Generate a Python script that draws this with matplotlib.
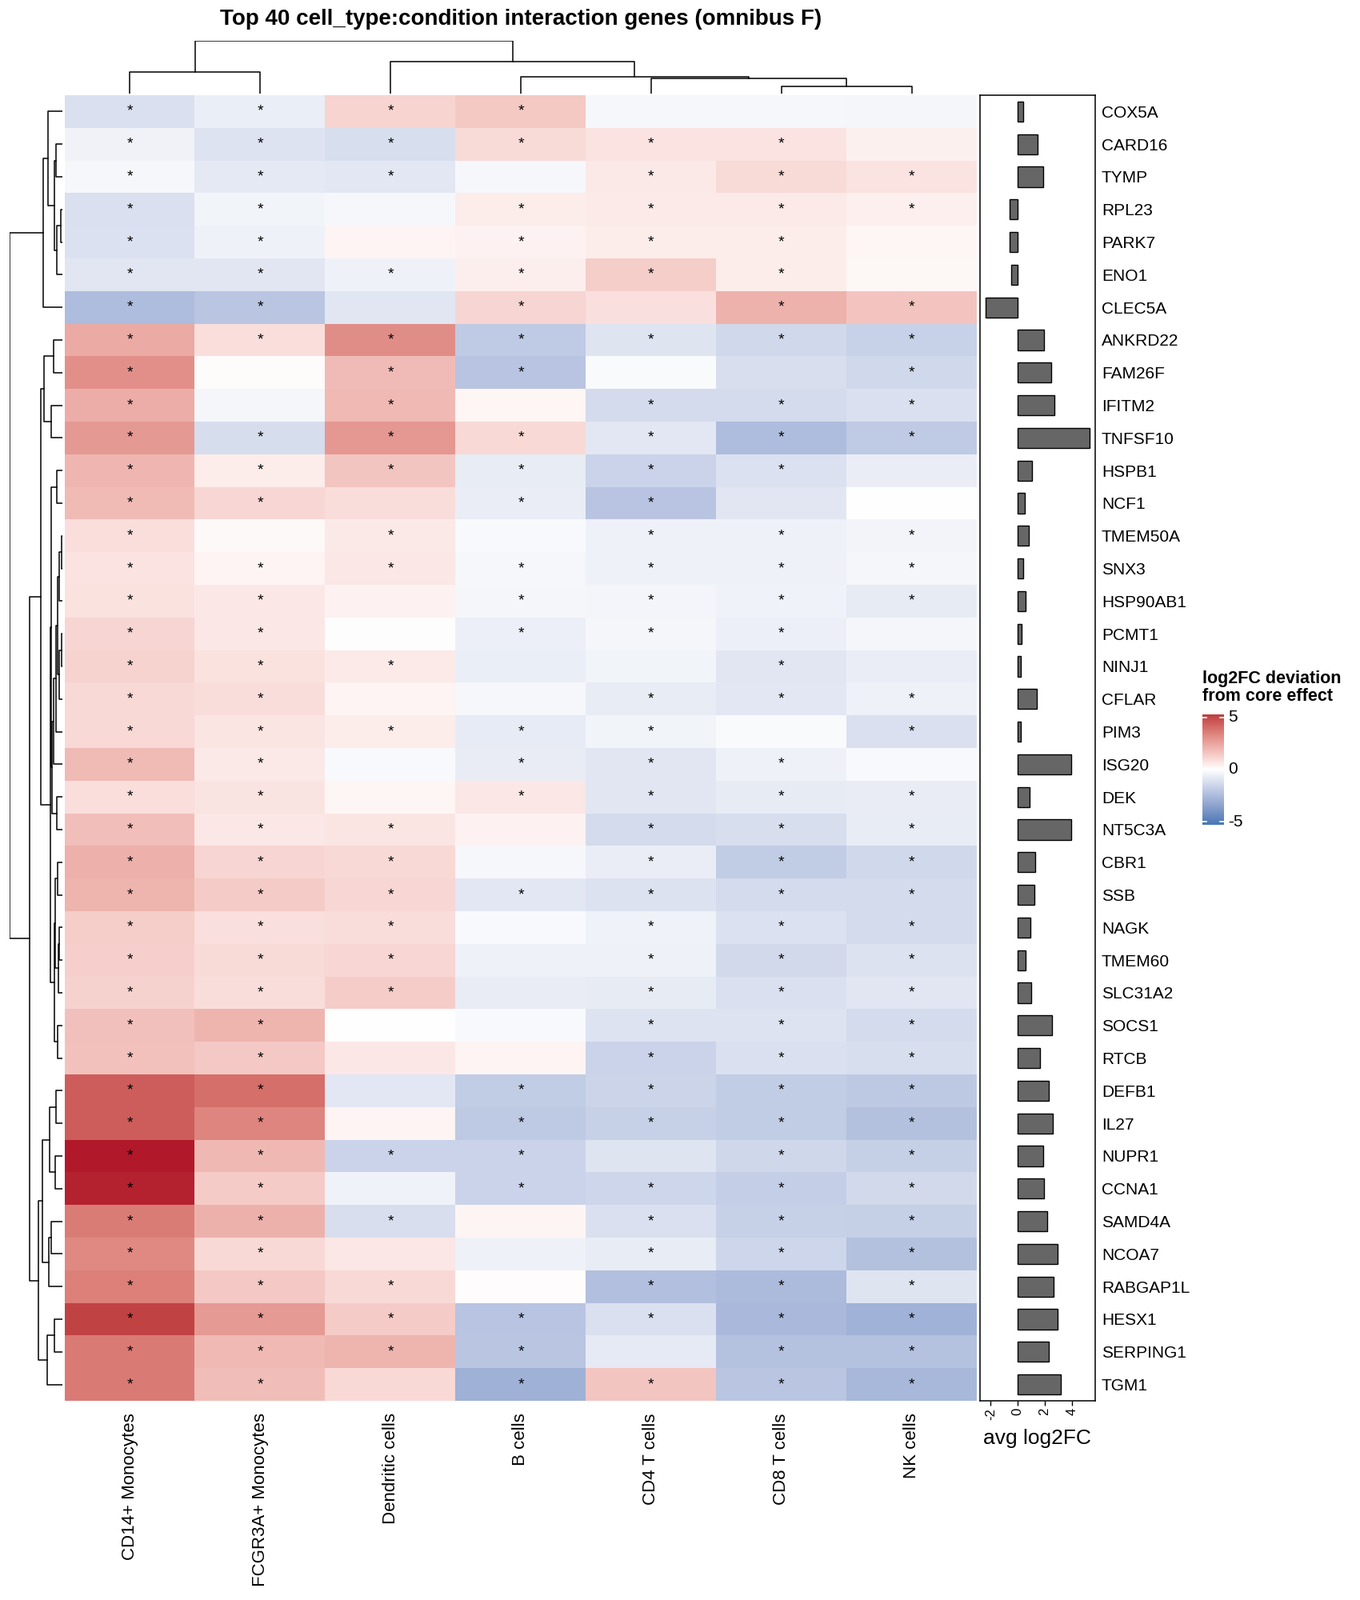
import numpy as np
import matplotlib
matplotlib.use('Agg')
import matplotlib.pyplot as plt
from matplotlib.colors import ListedColormap, Normalize

plt.rcParams['font.family'] = ['Liberation Sans', 'DejaVu Sans']
plt.rcParams['axes.unicode_minus'] = False

# ---- data ----
genes = ["COX5A", "CARD16", "TYMP", "RPL23", "PARK7", "ENO1", "CLEC5A", "ANKRD22",
         "FAM26F", "IFITM2", "TNFSF10", "HSPB1", "NCF1", "TMEM50A", "SNX3", "HSP90AB1",
         "PCMT1", "NINJ1", "CFLAR", "PIM3", "ISG20", "DEK", "NT5C3A", "CBR1", "SSB",
         "NAGK", "TMEM60", "SLC31A2", "SOCS1", "RTCB", "DEFB1", "IL27", "NUPR1", "CCNA1",
         "SAMD4A", "NCOA7", "RABGAP1L", "HESX1", "SERPING1", "TGM1"]
cell_types = ["CD14+ Monocytes", "FCGR3A+ Monocytes", "Dendritic cells", "B cells",
              "CD4 T cells", "CD8 T cells", "NK cells"]

cd14 = [-1.1, -0.45, -0.25, -1.1, -1.08, -0.9, -2.45, 2.36, 3.1, 2.28, 2.83, 2.0, 1.9, 0.9,
        0.78, 0.8, 1.15, 1.22, 1.06, 1.06, 1.92, 0.9, 1.8, 2.2, 2.08, 1.38, 1.3, 1.25, 1.72,
        1.7, 4.5, 4.5, 6.0, 5.85, 3.64, 3.3, 3.56, 5.2, 3.7, 3.7]
fcgr3a = [-0.6, -1.0, -0.8, -0.4, -0.5, -0.9, -2.1, 0.88, 0.1, -0.3, -1.24, 0.52, 1.12, 0.15,
          0.28, 0.62, 0.65, 0.8, 0.94, 0.7, 0.6, 0.73, 0.65, 1.15, 1.43, 0.86, 1.01, 0.94, 2.05,
          1.53, 4.0, 3.4, 1.97, 1.43, 2.15, 1.04, 1.53, 2.8, 1.95, 1.82]
dc = [1.2, -1.2, -0.85, -0.27, 0.28, -0.5, -0.9, 3.17, 1.87, 1.95, 2.9, 1.6, 0.94, 0.6, 0.65,
      0.34, 0.05, 0.55, 0.28, 0.5, -0.18, 0.23, 0.7, 1.04, 1.12, 0.94, 1.12, 1.4, 0.03, 0.62,
      -0.86, 0.28, -1.6, -0.46, -1.16, 0.65, 1.04, 1.43, 2.05, 1.06]
bcell = [1.5, 1.0, -0.25, 0.52, 0.36, 0.45, 1.15, -1.92, -2.16, 0.23, 1.06, -0.68, -0.62, -0.2,
         -0.27, -0.3, -0.57, -0.6, -0.27, -0.7, -0.65, 0.65, 0.34, -0.25, -0.84, -0.19, -0.5,
         -0.65, -0.19, 0.28, -1.86, -1.97, -1.6, -1.6, 0.26, -0.5, 0.08, -2.16, -2.14, -2.9]
cd4 = [-0.25, 0.75, 0.6, 0.57, 0.5, 1.38, 0.86, -0.97, -0.16, -1.3, -0.84, -1.6, -2.16, -0.5,
       -0.49, -0.32, -0.3, -0.4, -0.68, -0.4, -0.9, -0.9, -1.32, -0.62, -1.05, -0.46, -0.5,
       -0.73, -1.0, -1.6, -1.57, -1.7, -0.95, -1.49, -1.1, -0.68, -2.35, -1.13, -0.76, 1.58]
cd8 = [-0.25, 0.75, 1.0, 0.55, 0.5, 0.5, 2.13, -1.43, -1.16, -1.3, -2.43, -1.08, -0.9, -0.5,
       -0.5, -0.46, -0.57, -0.9, -0.84, -0.16, -0.5, -0.73, -1.2, -1.86, -1.32, -1.08, -1.38,
       -1.1, -1.0, -1.1, -1.86, -1.86, -1.46, -1.78, -1.7, -1.49, -2.5, -2.57, -2.27, -2.1]
nk = [-0.3, 0.4, 0.75, 0.42, 0.23, 0.2, 1.64, -1.68, -1.4, -1.1, -1.95, -0.62, 0.0, -0.38, -0.3,
      -0.73, -0.3, -0.62, -0.5, -1.1, -0.18, -0.65, -0.68, -1.4, -1.32, -1.32, -1.05, -0.9,
      -1.32, -1.2, -2.0, -2.3, -1.76, -1.38, -1.76, -2.3, -0.97, -2.86, -2.27, -2.62]

# significance marks, one string per gene, one char per cell type
signif = ["1111000", "1111110", "1110111", "1101111", "1101110", "1111110", "1101011",
          "1111111", "1011001", "1010111", "1111111", "1111110", "1101100", "1010111",
          "1111111", "1101111", "1101110", "1110010", "1100111", "1111101", "1101110",
          "1101111", "1110111", "1110111", "1111111", "1110111", "1110111", "1110111",
          "1100111", "1100111", "1101111", "1101111", "1111011", "1101111", "1110111",
          "1100111", "1110111", "1111111", "1111011", "1101111"]

avg_log2fc = [0.4, 1.47, 1.9, -0.6, -0.6, -0.5, -2.4, 1.95, 2.45, 2.7, 5.3, 1.03, 0.5, 0.8,
              0.4, 0.55, 0.3, 0.25, 1.4, 0.25, 3.95, 0.87, 3.95, 1.3, 1.25, 0.92, 0.55, 0.98,
              2.55, 1.63, 2.28, 2.6, 1.85, 1.95, 2.17, 2.93, 2.66, 2.93, 2.28, 3.15]

# dendrograms as merges (child a, child b, height); ids >= n are earlier merges
col_merges = [(0, 1, 27), (5, 6, 9), (4, 8, 19), (3, 9, 21), (2, 10, 40), (7, 11, 66)]
row_merges = [(3, 4, 2), (40, 5, 7.6), (1, 2, 8.3), (42, 41, 10.6), (0, 43, 18.3),
              (44, 6, 24.3), (7, 8, 11.6), (9, 10, 14), (46, 47, 23.3), (11, 12, 7.6),
              (13, 14, 1.5), (50, 15, 4.3), (16, 17, 1.5), (52, 18, 4.8), (51, 53, 6.6),
              (54, 19, 8.3), (55, 20, 11.6), (21, 22, 7.6), (56, 57, 13), (49, 58, 14),
              (23, 24, 6.6), (25, 26, 4.3), (61, 27, 5.6), (60, 62, 9.3), (28, 29, 6.6),
              (63, 64, 10.6), (59, 65, 15), (48, 66, 27.6), (30, 31, 8.3), (32, 33, 9.3),
              (68, 69, 16.6), (34, 35, 14), (71, 36, 17.3), (70, 72, 25), (37, 38, 10.6),
              (74, 39, 19), (73, 75, 30), (67, 76, 41), (45, 77, 66)]

# ---- colour ramp, interpolated in LAB like colorRamp2 ----
M_RGB2XYZ = np.array([[0.4124, 0.3576, 0.1805],
                      [0.2126, 0.7152, 0.0722],
                      [0.0193, 0.1192, 0.9505]])
WHITE_XYZ = np.array([0.95047, 1.0, 1.08883])


def hex_to_lab(h):
    c = np.array([int(h[i:i + 2], 16) for i in (1, 3, 5)]) / 255.0
    lin = np.where(c <= 0.04045, c / 12.92, ((c + 0.055) / 1.055) ** 2.4)
    xyz = M_RGB2XYZ @ lin / WHITE_XYZ
    f = np.where(xyz > (6 / 29) ** 3, np.cbrt(xyz), xyz / (3 * (6 / 29) ** 2) + 4 / 29)
    return np.array([116 * f[1] - 16, 500 * (f[0] - f[1]), 200 * (f[1] - f[2])])


def lab_to_rgb(lab):
    fy = (lab[:, 0] + 16) / 116
    fx = fy + lab[:, 1] / 500
    fz = fy - lab[:, 2] / 200
    f = np.stack([fx, fy, fz], axis=1)
    xyz = np.where(f > 6 / 29, f ** 3, 3 * (6 / 29) ** 2 * (f - 4 / 29)) * WHITE_XYZ
    lin = xyz @ np.linalg.inv(M_RGB2XYZ).T
    lin = np.clip(lin, 0, 1)
    c = np.where(lin <= 0.0031308, 12.92 * lin, 1.055 * lin ** (1 / 2.4) - 0.055)
    return np.clip(c, 0, 1)


def lab_ramp(low, mid, high, n=513):
    t = np.linspace(-1, 1, n)[:, None]
    lo, md, hi = hex_to_lab(low), hex_to_lab(mid), hex_to_lab(high)
    lab = np.where(t < 0, md + (-t) * (lo - md), md + t * (hi - md))
    return ListedColormap(lab_to_rgb(lab))


cmap = lab_ramp('#2166AC', '#FFFFFF', '#B2182B')
norm = Normalize(-6, 6)

# ---- figure ----
W, H = 1700, 2000
fig = plt.figure(figsize=(W / 100, H / 100), dpi=100)


def px_axes(x0, y0, x1, y1):
    return fig.add_axes([x0 / W, 1 - y1 / H, (x1 - x0) / W, (y1 - y0) / H])


def draw_dendro(ax, merges, n, side):
    pos = list(range(n))
    hgt = [0.0] * n
    for a, b, h in merges:
        pa, pb, ha, hb = pos[a], pos[b], hgt[a], hgt[b]
        if side == 'top':
            ax.plot([pa, pa, pb, pb], [ha, h, h, hb], color='black', lw=1.1)
        else:
            ax.plot([ha, h, h, hb], [pa, pa, pb, pb], color='black', lw=1.1)
        pos.append((pa + pb) / 2)
        hgt.append(h)


mat = np.column_stack([cd14, fcgr3a, dc, bcell, cd4, cd8, nk])
n_rows, n_cols = mat.shape

# heatmap
ax = px_axes(81, 119, 1221, 1751)
ax.imshow(mat, cmap=cmap, norm=norm, aspect='auto', interpolation='nearest')
for i in range(n_rows):
    for j in range(n_cols):
        if signif[i][j] == '1':
            ax.text(j, i, '*', ha='center', va='center', fontsize=14)
ax.set_xticks(range(n_cols))
ax.set_xticklabels(cell_types, rotation=90, fontsize=16, va='top', ha='center')
ax.tick_params(axis='x', length=0, pad=11)
ax.set_yticks([])
for s in ax.spines.values():
    s.set_visible(False)

# column dendrogram
axc = px_axes(81, 51, 1221, 117)
draw_dendro(axc, col_merges, n_cols, 'top')
axc.set_xlim(-0.5, n_cols - 0.5)
axc.set_ylim(0, 66)
axc.axis('off')

# row dendrogram
axr = px_axes(12.3, 119, 78.3, 1751)
draw_dendro(axr, row_merges, n_rows, 'left')
axr.set_xlim(66, 0)
axr.set_ylim(n_rows - 0.5, -0.5)
axr.axis('off')

# bar annotation
axb = px_axes(1225, 119, 1368.5, 1751)
axb.barh(range(n_rows), avg_log2fc, height=0.62, color='#666666', edgecolor='black', lw=1.0)
rng = max(avg_log2fc) - min(avg_log2fc)
axb.set_xlim(min(0, min(avg_log2fc)) - 0.05 * rng, max(avg_log2fc) + 0.05 * rng)
axb.set_ylim(n_rows - 0.5, -0.5)
axb.set_xticks([-2, 0, 2, 4])
axb.set_xticklabels(["-2", "0", "2", "4"], rotation=90, fontsize=12)
axb.tick_params(axis='x', length=4.5, width=1.0, pad=2)
axb.yaxis.tick_right()
axb.set_yticks(range(n_rows))
axb.set_yticklabels(genes, fontsize=15)
axb.tick_params(axis='y', length=0, pad=6)
for s in axb.spines.values():
    s.set_linewidth(1.1)
axb.set_xlabel('avg log2FC', fontsize=19, labelpad=8)

# title
fig.text(651 / W, 1 - 24 / H, 'Top 40 cell_type:condition interaction genes (omnibus F)',
         ha='center', va='center', fontsize=20, fontweight='bold')

# colour legend
fig.text(1503 / W, 1 - 838 / H, 'log2FC deviation\nfrom core effect', ha='left', va='top',
         fontsize=15.5, fontweight='bold', linespacing=1.05)
cax = px_axes(1503, 893, 1530, 1031)
grad = np.linspace(5.3, -5.3, 256)[:, None]
cax.imshow(grad, cmap=cmap, norm=norm, aspect='auto', extent=[0, 1, -5.3, 5.3])
cax.set_xlim(0, 1)
cax.set_ylim(-5.3, 5.3)
for v in (-5, 0, 5):
    cax.plot([0, 0.2], [v, v], color='white', lw=1.2)
    cax.plot([0.8, 1], [v, v], color='white', lw=1.2)
    cax.text(1.2, v, str(v), ha='left', va='center', fontsize=15, clip_on=False)
cax.axis('off')

fig.savefig('out.png', dpi=100)
